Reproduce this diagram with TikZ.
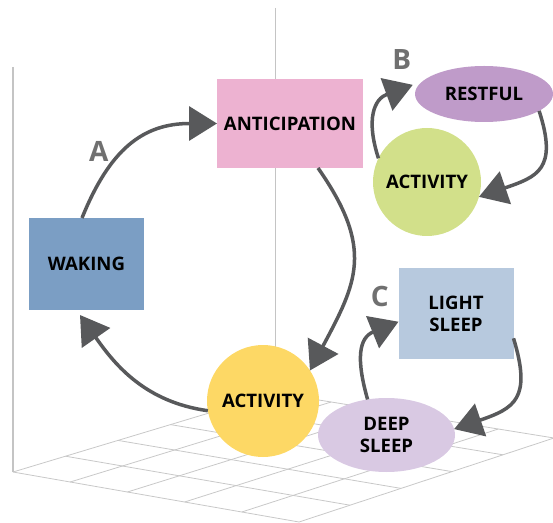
\documentclass[tikz,border=0pt]{standalone}
\usepackage{fontspec}
\setmainfont{Open Sans}
\usetikzlibrary{arrows.meta,shapes.geometric,calc}
\definecolor{arr}{RGB}{88,89,91}
\definecolor{wakc}{RGB}{123,158,196}
\definecolor{antc}{RGB}{237,178,209}
\definecolor{yelc}{RGB}{253,216,101}
\definecolor{deepc}{RGB}{217,201,227}
\definecolor{lightc}{RGB}{183,201,222}
\definecolor{restc}{RGB}{191,155,201}
\definecolor{grnc}{RGB}{210,224,138}
\definecolor{gridc}{RGB}{200,200,200}
\definecolor{wallc}{RGB}{196,196,196}
\definecolor{labc}{RGB}{112,112,112}
\begin{document}
\begin{tikzpicture}[x=1pt,y=1pt,
  txt/.style={font=\fontsize{18.6}{22.5}\selectfont\bfseries, text=black, align=center, inner sep=0pt, outer sep=0pt},
  rectbox/.style={txt, rectangle},
  circ/.style={txt, circle},
  ell/.style={txt, ellipse},
  lab/.style={font=\fontsize{28}{28}\selectfont\bfseries, text=labc, inner sep=0pt},
  gridline/.style={draw=gridc, line width=0.8pt},
  wall/.style={draw=wallc, line width=1.6pt},
  conn/.style={draw=arr, line width=3.5pt, -{Triangle[length=28pt,width=34pt]}}
]
\useasboundingbox (0,0) rectangle (553,522);
% floor grid
\coordinate (L) at (13,50);
\coordinate (B) at (275.5,129);
\coordinate (R) at (554,84);
\coordinate (F) at (299,0);
\foreach \i in {0,...,5} {
  \draw[gridline] ($(L)!{\i/5}!(B)$) -- ($(F)!{\i/5}!(R)$);
  \draw[gridline] ($(L)!{\i/5}!(F)$) -- ($(B)!{\i/5}!(R)$);
}
\coordinate (wl) at (13,455);
\coordinate (wm) at (275.5,514);
\draw[wall] (wl) -- (L);
\draw[wall] (wm) -- (B);
% nodes
\node[rectbox, fill=wakc, minimum width=115pt, minimum height=92pt] (wak) at (86.5,258) {WAKING};
\node[rectbox, fill=antc, minimum width=146pt, minimum height=89pt] (ant) at (290,398.5) {ANTICIPATION};
\node[circ, fill=yelc, minimum size=112pt] (act1) at (263,121) {ACTIVITY};
\node[ell, fill=deepc, minimum width=137pt, minimum height=74pt] (deep) at (386.5,87) {DEEP\\SLEEP};
\node[rectbox, fill=lightc, minimum width=115pt, minimum height=91pt] (light) at (456,208.3) {LIGHT\\SLEEP};
\node[ell, fill=restc, minimum width=138pt, minimum height=56pt] (rest) at (484,428) {RESTFUL};
\node[circ, fill=grnc, minimum size=108pt] (act2) at (427,340) {ACTIVITY};
% labels
\node[lab] (labA) at (98.8,371) {A};
\node[lab] (labB) at (401.7,462) {B};
\node[lab] (labC) at (379.7,225.7) {C};
% connectors
\draw[conn] ([xshift=-4.5pt]wak.north) to[out=68,in=180,looseness=1.15] (ant.west);
\draw[conn] ([xshift=28pt]ant.south) to[out=-55,in=62,looseness=1.25] (act1.33);
\draw[conn] (act1.190) to[out=172,in=-55] ([shift={(-6.5pt,-5pt)}]wak.south);
\draw[conn] (act2.154) to[out=108,in=200,looseness=1.3] ([xshift=-6pt]rest.172);
\draw[conn] (rest.-17) to[out=-72,in=19,looseness=1.5] (act2.-16);
\draw[conn] (deep.118) to[out=106,in=202,looseness=1.3] ([yshift=-8pt]light.west);
\draw[conn] ([yshift=-24.6pt]light.east) to[out=-73,in=19,looseness=1.5] (deep.5);
\end{tikzpicture}
\end{document}
